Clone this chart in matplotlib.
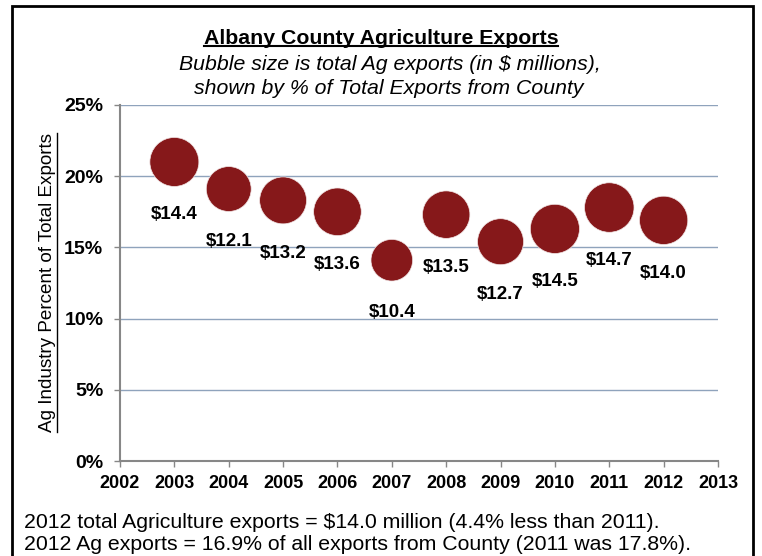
"""
Albany County agriculture exports: bubble chart of Ag share of total exports,
bubble area = total Ag exports ($ millions).
"""
import numpy as np
import matplotlib
matplotlib.use("Agg")
import matplotlib.pyplot as plt
from matplotlib.patches import Rectangle
from matplotlib.lines import Line2D

plt.rcParams["font.family"] = ["Liberation Sans", "DejaVu Sans"]

# Data
years = [2003, 2004, 2005, 2006, 2007, 2008, 2009, 2010, 2011, 2012]
ag_pct = [21.0, 19.1, 18.3, 17.5, 14.1, 17.3, 15.4, 16.3, 17.8, 16.9]
ag_exports = [14.4, 12.1, 13.2, 13.6, 10.4, 13.5, 12.7, 14.5, 14.7, 14.0]
year_ticks = list(range(2002, 2014))
pct_ticks = [0, 5, 10, 15, 20, 25]

fig = plt.figure(figsize=(7.62, 5.56), dpi=100)
ax = fig.add_axes([120 / 762, 95 / 556, 598 / 762, 356 / 556])

# bubble area proportional to exports; largest ~49 px across
ex = np.array(ag_exports)
diam_px = 49.5 * np.sqrt(ex / ex.max())
sizes = (diam_px * 72 / 100) ** 2
ax.scatter(years, ag_pct, s=sizes, color="#86181A", edgecolor="#F2E6E6",
           linewidth=0.5, zorder=3, clip_on=False)

for x, y, v in zip(years, ag_pct, ag_exports):
    ax.annotate(f"${v:.1f}", (x, y), xytext=(0, -38), textcoords="offset points",
                ha="center", va="center", fontsize=13.5, fontweight="bold", zorder=4)

ax.set_xlim(2002, 2013)
ax.set_ylim(0, 25)
ax.set_xticks(year_ticks)
ax.set_xticklabels([str(y) for y in year_ticks], fontsize=13, fontweight="bold")
ax.set_yticks(pct_ticks)
ax.set_yticklabels([f"{p}%" for p in pct_ticks], fontsize=14, fontweight="bold")
ax.yaxis.grid(True, color="#8FA3BC", linewidth=1)
ax.set_axisbelow(True)
for s in ["top", "right"]:
    ax.spines[s].set_visible(False)
for s in ["left", "bottom"]:
    ax.spines[s].set_color("#878787")
    ax.spines[s].set_linewidth(1.5)
ax.tick_params(axis="both", direction="out", length=4, color="#878787", width=1)
ax.tick_params(axis="y", pad=8)
ax.tick_params(axis="x", pad=6)

# titles
fig.text(0.5, 1 - 39 / 556, "Albany County Agriculture Exports", ha="center", va="center",
         fontsize=15.3, fontweight="bold")
fig.text(390 / 762, 1 - 64 / 556, "Bubble size is total Ag exports (in $ millions),",
         ha="center", va="center", fontsize=15.3, style="italic")
fig.text(389 / 762, 1 - 88 / 556, "shown by % of Total Exports from County",
         ha="center", va="center", fontsize=15.3, style="italic")

ylab = fig.text(48 / 762, 1 - 282 / 556, "Ag Industry Percent of Total Exports",
                ha="center", va="center", rotation=90, fontsize=13.6)

fig.text(24 / 762, 1 - 523 / 556,
         "2012 total Agriculture exports = $14.0 million (4.4% less than 2011).",
         ha="left", va="center", fontsize=15.3)
fig.text(24 / 762, 1 - 545 / 556,
         "2012 Ag exports = 16.9% of all exports from County (2011 was 17.8%).",
         ha="left", va="center", fontsize=15.3)

# border around the whole chart, bottom edge runs off the picture
fig.patches.append(Rectangle((12 / 762, -0.05), 741 / 762, 1.05 - 6 / 556,
                             transform=fig.transFigure, fill=False,
                             edgecolor="black", linewidth=2))

# underlines for title and y label
fig.canvas.draw()
r = fig.canvas.get_renderer()
title = [t for t in fig.texts if t.get_text().startswith("Albany")][0]
bb = title.get_window_extent(r).transformed(fig.transFigure.inverted())
fig.lines.append(Line2D([bb.x0, bb.x1], [bb.y0 + 0.005, bb.y0 + 0.005],
                       transform=fig.transFigure, color="black", linewidth=1.5))
bb = ylab.get_window_extent(r).transformed(fig.transFigure.inverted())
fig.lines.append(Line2D([bb.x1 + 0.001, bb.x1 + 0.001], [bb.y0, bb.y1],
                       transform=fig.transFigure, color="black", linewidth=1))

fig.savefig("out.png", dpi=100)
